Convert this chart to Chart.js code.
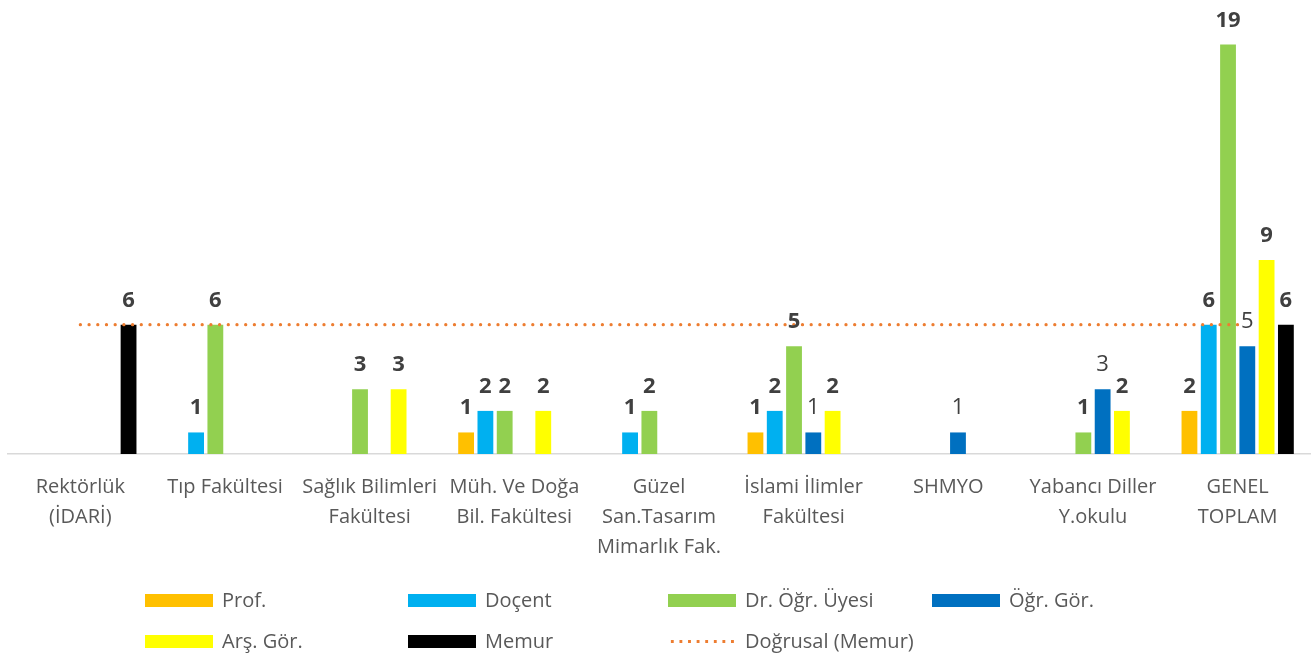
<!DOCTYPE html>
<html>
<head>
<meta charset="utf-8">
<script src="https://cdn.jsdelivr.net/npm/chart.js@4"></script>
<style>
	body { margin: 0; background: #fff; font-family: "Open Sans", sans-serif; }
	#wrap { position: relative; width: 1316px; height: 662px; }
	#legend { position: absolute; left: 0; top: 0; width: 1316px; height: 662px; pointer-events: none; }
	.item { position: absolute; height: 26px; line-height: 26px; font-size: 20px; color: #595959; white-space: nowrap; }
	.box { position: absolute; left: 0; top: 7px; width: 68px; height: 13px; }
	.dots { position: absolute; left: 0; top: 12px; width: 68px; height: 3px;
		background-image: radial-gradient(circle, #ED7D31 1.5px, transparent 1.8px);
		background-size: 8.6px 3px; background-repeat: repeat-x; }
	.txt { position: absolute; left: 77px; top: 0; }
</style>
</head>
<body>
<div id="wrap">
	<canvas id="chart"></canvas>
	<div id="legend"></div>
</div>
<script>
const categories = [
	["Rektörlük", "(İDARİ)"],
	"Tıp Fakültesi",
	["Sağlık Bilimleri", "Fakültesi"],
	["Müh. Ve Doğa", "Bil. Fakültesi"],
	["Güzel", "San.Tasarım", "Mimarlık Fak."],
	["İslami İlimler", "Fakültesi"],
	"SHMYO",
	["Yabancı Diller", "Y.okulu"],
	["GENEL", "TOPLAM"]
];

const prof     = [null, null, null, 1, null, 1, null, null, 2];
const docent   = [null, 1, null, 2, 1, 2, null, null, 6];
const drOgrUye = [null, 6, 3, 2, 2, 5, null, 1, 19];
const ogrGor   = [null, null, null, null, null, 1, 1, 3, 5];
const arsGor   = [null, null, 3, 2, null, 2, null, 2, 9];
const memur    = [6, null, null, null, null, null, null, null, 6];
const memurTrend = [6, 6, 6, 6, 6, 6, 6, 6, 6];

const series = [
	{ label: "Prof.", data: prof, color: "#FFC000", bold: true },
	{ label: "Doçent", data: docent, color: "#00B0F0", bold: true },
	{ label: "Dr. Öğr. Üyesi", data: drOgrUye, color: "#92D050", bold: true },
	{ label: "Öğr. Gör.", data: ogrGor, color: "#0070C0", bold: false },
	{ label: "Arş. Gör.", data: arsGor, color: "#FFFF00", bold: true },
	{ label: "Memur", data: memur, color: "#000000", bold: true }
];
const trendLabel = "Doğrusal (Memur)";
const trendColor = "#ED7D31";

// value labels above bars
const valueLabels = {
	id: "valueLabels",
	afterDatasetsDraw(chart) {
		const ctx = chart.ctx;
		ctx.save();
		ctx.textAlign = "center";
		ctx.textBaseline = "alphabetic";
		ctx.fillStyle = "#404040";
		chart.data.datasets.forEach((ds, i) => {
			if (ds.type === "line") { return; }
			const meta = chart.getDatasetMeta(i);
			meta.data.forEach((bar, j) => {
				const v = ds.data[j];
				if (v == null) { return; }
				ctx.font = (ds.bold ? "bold " : "") + "22px 'Open Sans'";
				ctx.fillText(v, bar.x, bar.y - 18);
			});
		});
		ctx.restore();
	}
};

const datasets = series.map(s => ({
	type: "bar",
	label: s.label,
	data: s.data,
	backgroundColor: s.color,
	bold: s.bold,
	order: 2,
	barPercentage: 0.82,
	categoryPercentage: 0.8
}));
datasets.push({
	type: "line",
	label: trendLabel,
	data: memurTrend,
	borderColor: trendColor,
	borderWidth: 3.2,
	borderDash: [0.1, 8.6],
	borderCapStyle: "round",
	pointRadius: 0,
	fill: false,
	order: 1
});

new Chart(document.getElementById("chart"), {
	type: "bar",
	data: { labels: categories, datasets: datasets },
	options: {
		responsive: true,
		maintainAspectRatio: false,
		animation: false,
		layout: { padding: { left: 8, right: 6, top: 23, bottom: 0 } },
		scales: {
			x: {
				grid: { display: false, drawTicks: false },
				border: { display: true, color: "#D9D9D9", width: 1.5 },
				ticks: {
					autoSkip: false,
					maxRotation: 0,
					minRotation: 0,
					padding: 18,
					color: "#595959",
					font: { family: "'Open Sans'", size: 20, lineHeight: "30px" }
				},
				afterFit: scale => { scale.height = 208; }
			},
			y: {
				display: false,
				min: 0,
				max: 20
			}
		},
		plugins: {
			legend: { display: false },
			tooltip: { enabled: false }
		}
	},
	plugins: [valueLabels]
});

// legend, two rows of four columns
const legendCols = [145, 408, 668, 932];
const legendRows = [587, 628];
const legendItems = series.map(s => ({ label: s.label, color: s.color }));
legendItems.push({ label: trendLabel, line: true });

const legend = document.getElementById("legend");
legendItems.forEach((it, k) => {
	const el = document.createElement("div");
	el.className = "item";
	el.style.left = legendCols[k % 4] + "px";
	el.style.top = legendRows[Math.floor(k / 4)] + "px";
	const mark = document.createElement("div");
	if (it.line) {
		mark.className = "dots";
	} else {
		mark.className = "box";
		mark.style.background = it.color;
	}
	const txt = document.createElement("span");
	txt.className = "txt";
	txt.textContent = it.label;
	el.appendChild(mark);
	el.appendChild(txt);
	legend.appendChild(el);
});
</script>
</body>
</html>
